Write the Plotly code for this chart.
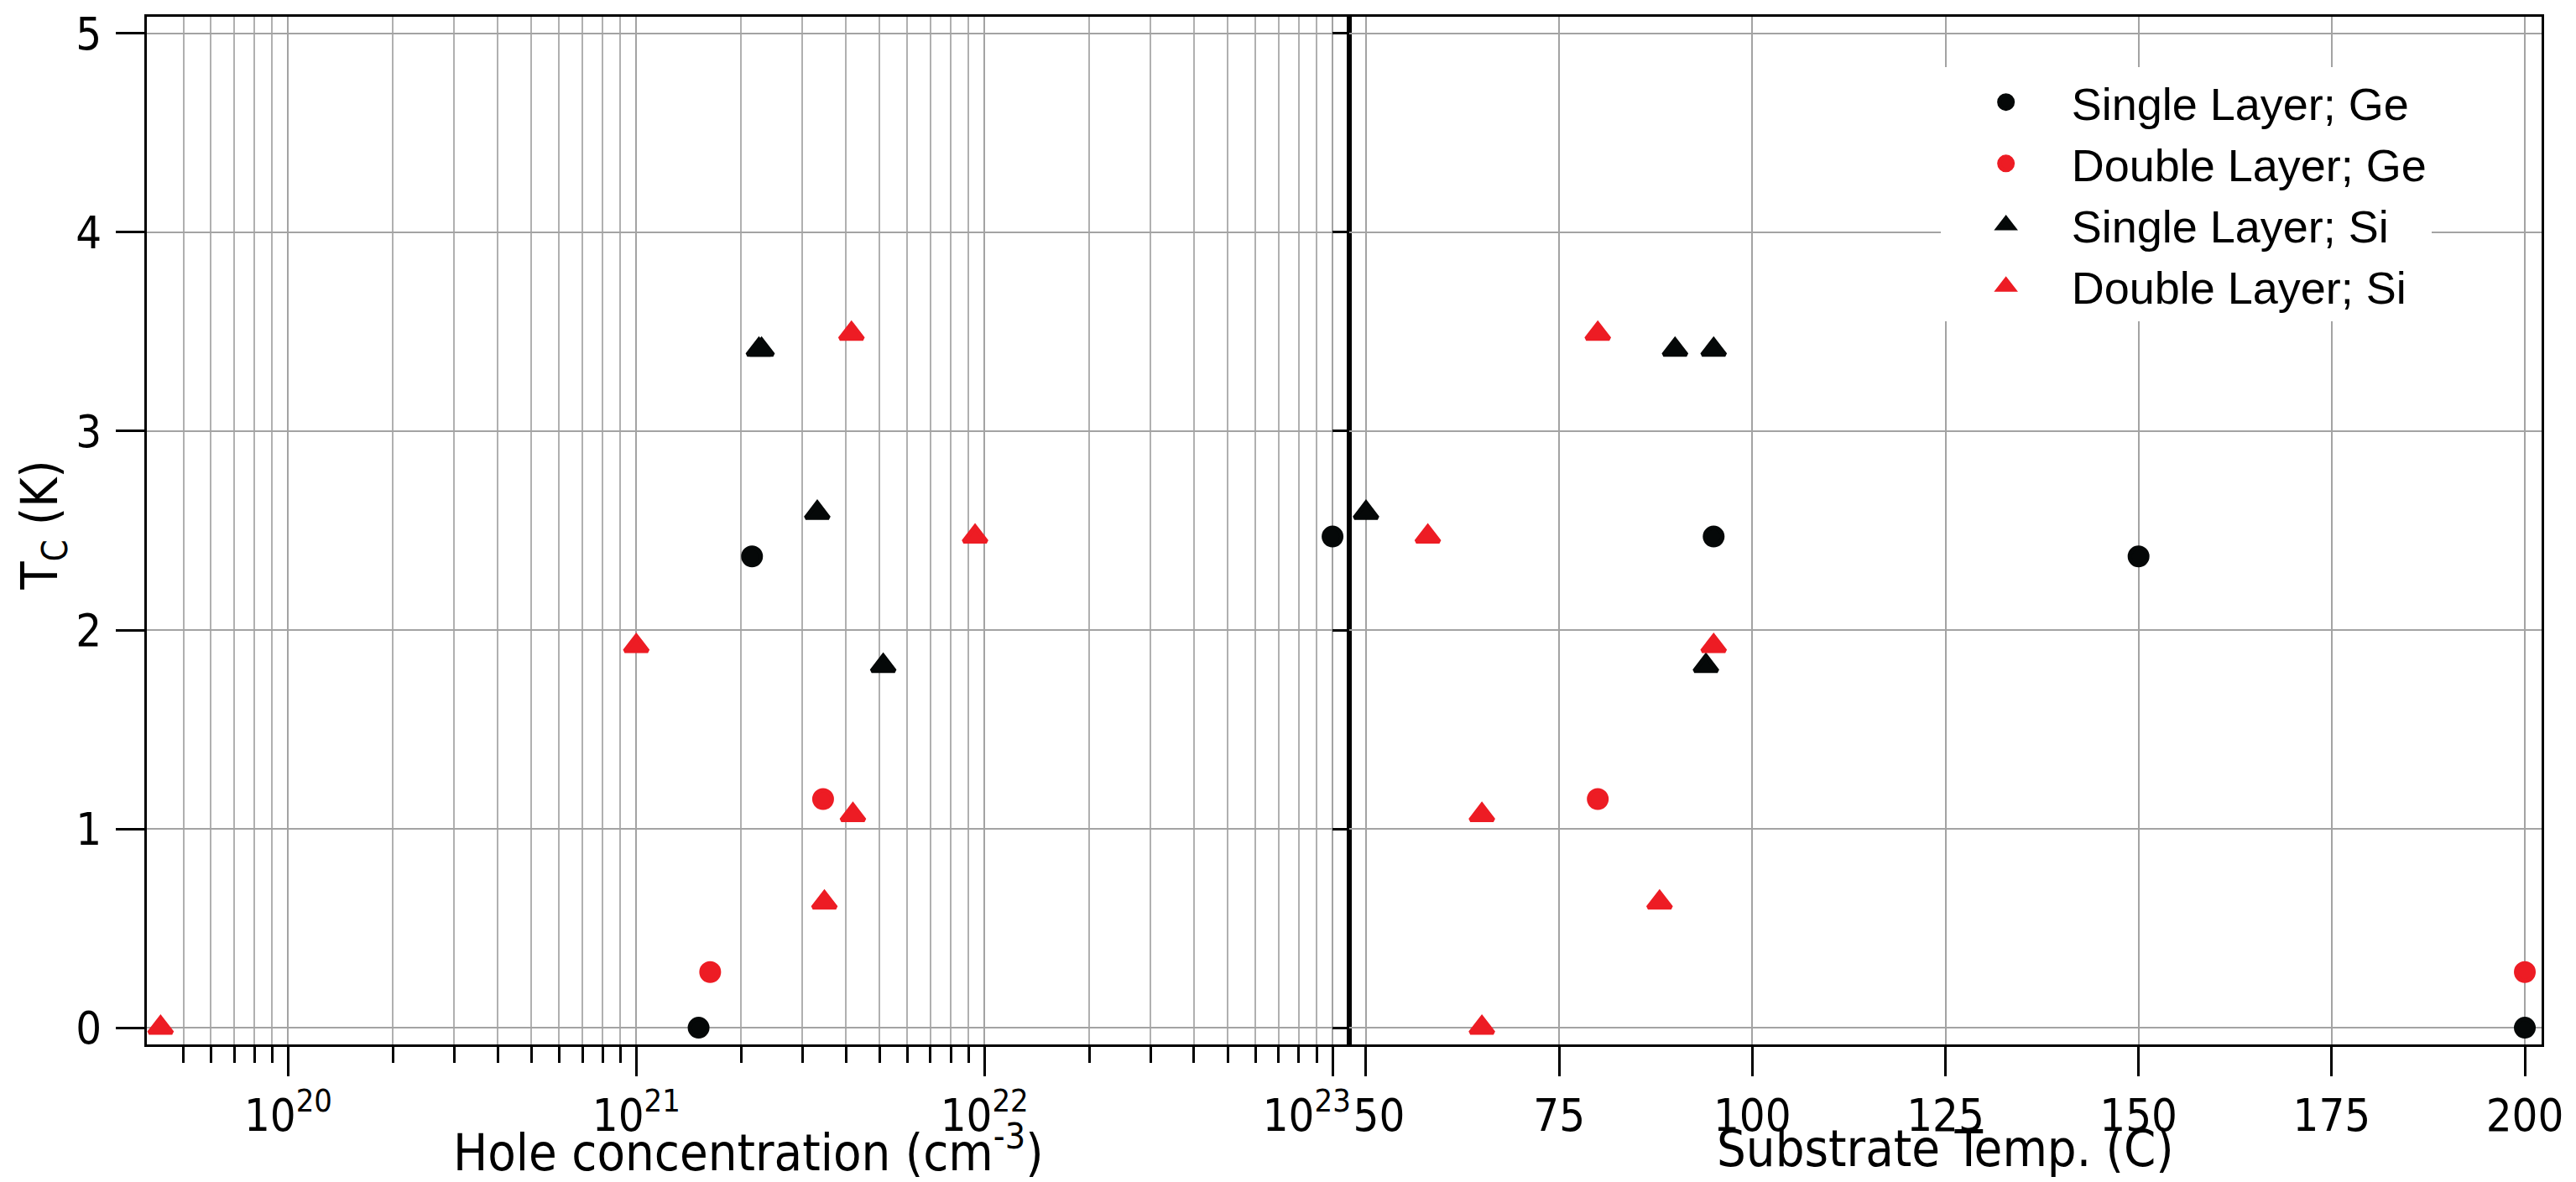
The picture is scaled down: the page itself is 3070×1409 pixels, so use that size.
import plotly.graph_objects as go

# Tc (K) vs hole concentration (cm^-3) and substrate temperature (C)
sl_ge_hole = [1.51e21, 2.15e21, 1.0e23]
sl_ge_temp = [200, 150, 95]
sl_ge_tc = [0.0, 2.37, 2.47]

dl_ge_hole = [1.63e21, 3.44e21]
dl_ge_temp = [200, 80]
dl_ge_tc = [0.28, 1.15]

sl_si_hole = [2.25e21, 2.29e21, 3.31e21, 5.12e21]
sl_si_temp = [90, 95, 50, 94]
sl_si_tc = [3.41, 3.41, 2.59, 1.82]

dl_si_hole = [4.3e19, 1.0e21, 3.47e21, 4.19e21, 4.15e21, 9.4e21]
dl_si_temp = [65, 95, 88, 65, 80, 58]
dl_si_tc = [0.0, 1.92, 0.63, 1.07, 3.49, 2.47]

hole_major = [1e20, 1e21, 1e22, 1e23]
# nbsp padding nudges the 10^23 / 50 labels apart like the original
hole_labels = ['10<sup>20</sup>', '10<sup>21</sup>', '10<sup>22</sup>',
               '10<sup>23</sup>' + '&nbsp;' * 4]
temp_ticks = [50, 75, 100, 125, 150, 175, 200]
temp_labels = ['&nbsp;&nbsp;50', '75', '100', '125', '150', '175', '200']
tc_ticks = [0, 1, 2, 3, 4, 5]

hole_minor = [m * 10.0 ** e for e in [19, 20, 21, 22] for m in range(2, 10)]
hole_minor = [v for v in hole_minor if v > 4.5e19]

RED = '#ed1c24'
BLACK = '#050808'
GRID = '#a3a3a3'
AXFONT = 'DejaVu Sans Condensed, Open Sans, sans-serif'

series = [
    ('Single Layer; Ge', sl_ge_hole, sl_ge_temp, sl_ge_tc, BLACK, 'circle', 21),
    ('Double Layer; Ge', dl_ge_hole, dl_ge_temp, dl_ge_tc, RED, 'circle', 21),
    ('Single Layer; Si', sl_si_hole, sl_si_temp, sl_si_tc, BLACK, 'triangle-up', 24),
    ('Double Layer; Si', dl_si_hole, dl_si_temp, dl_si_tc, RED, 'triangle-up', 24),
]

fig = go.Figure()
for name, hole, temp, tc, color, sym, size in series:
    mk = dict(color=color, symbol=sym, size=size, line=dict(width=5, color=color))
    fig.add_trace(go.Scatter(
        x=hole, y=tc, mode='markers', name=name, legendgroup=name,
        showlegend=False, xaxis='x', yaxis='y', marker=mk))
    fig.add_trace(go.Scatter(
        x=temp, y=tc, mode='markers', name=name, legendgroup=name,
        showlegend=True, xaxis='x2', yaxis='y2', marker=mk))

split = (1600 - 167) / (3021 - 167)
yrange = [-0.084, 5.084]

frame = dict(showline=True, linewidth=3, linecolor='black', mirror=True,
             showgrid=True, gridcolor=GRID, gridwidth=1.5, zeroline=False,
             tickcolor='black', tickwidth=3, automargin=False,
             tickfont=dict(family=AXFONT, size=54, color='black'))

title_font = dict(family=AXFONT, size=61, color='black')

fig.update_layout(
    width=3070, height=1409,
    margin=dict(l=167, r=49, t=12, b=172),
    paper_bgcolor='white', plot_bgcolor='white',
    font=dict(family=AXFONT, color='black'),
    xaxis=dict(frame, type='log', domain=[0, split], range=[19.594, 23.048],
               anchor='y', tickmode='array', tickvals=hole_major, ticktext=hole_labels,
               ticks='outside', ticklen=35, gridwidth=2,
               minor=dict(tickmode='array', tickvals=hole_minor, ticks='outside',
                          ticklen=19, tickwidth=3, tickcolor='black',
                          showgrid=True, gridcolor='#b0b0b0', gridwidth=1.5)),
    yaxis=dict(frame, domain=[0, 1], range=yrange, anchor='x',
               tickmode='array', tickvals=tc_ticks, ticks='outside', ticklen=34,
               ticklabelstandoff=6),
    xaxis2=dict(frame, domain=[split, 1], range=[47.83, 202.17], anchor='y2',
                tickmode='array', tickvals=temp_ticks, ticktext=temp_labels,
                ticks='outside', ticklen=35),
    yaxis2=dict(frame, domain=[0, 1], range=yrange, anchor='x2',
                tickmode='array', tickvals=tc_ticks, ticks='outside', ticklen=17,
                showticklabels=False),
    yaxis3=dict(overlaying='y2', anchor='x2', range=yrange, tickmode='array',
                tickvals=tc_ticks, ticks='inside', ticklen=17, tickwidth=3,
                tickcolor='black', showticklabels=False, showgrid=False,
                showline=False, zeroline=False, automargin=False),
    legend=dict(x=0.749, y=0.951, xanchor='left', yanchor='top',
                bgcolor='white', borderwidth=0, itemwidth=146,
                font=dict(family='Liberation Sans, Arial, sans-serif', size=54, color='black'),
                tracegroupgap=0, itemsizing='trace'),
    annotations=[
        dict(text='Hole concentration (cm<sup>-3</sup>)', xref='x domain', yref='y domain',
             x=0.5, y=-0.101, xanchor='center', yanchor='middle',
             showarrow=False, font=title_font),
        dict(text='Substrate Temp. (C)', xref='x2 domain', yref='y2 domain',
             x=0.5, y=-0.101, xanchor='center', yanchor='middle',
             showarrow=False, font=title_font),
        dict(text='T<sub>C</sub> (K)', xref='x domain', yref='y domain',
             x=-0.0865, y=0.505, xanchor='center', yanchor='middle', textangle=-90,
             showarrow=False, font=dict(title_font, size=60)),
    ],
)

fig.write_html('out.html')
